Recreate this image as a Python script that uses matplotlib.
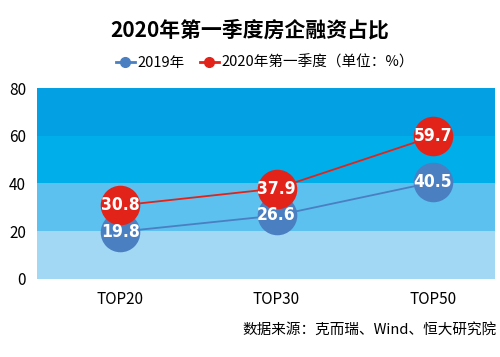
import matplotlib
matplotlib.use("Agg")
import matplotlib.pyplot as plt
from matplotlib.lines import Line2D

plt.rcParams['font.family'] = ['Noto Sans CJK SC', 'DejaVu Sans']

categories = ["TOP20", "TOP30", "TOP50"]
s2019 = [19.8, 26.6, 40.5]
s2020 = [30.8, 37.9, 59.7]
series_names = ["2019年", "2020年第一季度（单位：%）"]
yticks = [0, 20, 40, 60, 80]

band_colors = ["#a3d8f5", "#5cc1ef", "#00aeea", "#03a0e3"]
blue = "#4a7fc2"
red = "#e2231a"

fig = plt.figure(figsize=(5, 3.57), dpi=100)
ax = fig.add_axes([0.074, 0.2185, 0.916, 0.535])
x = list(range(len(categories)))
ax.set_xlim(-0.532, 2.397)
ax.set_ylim(0, 80)
for i in range(4):
    ax.axhspan(yticks[i], yticks[i + 1], color=band_colors[i], zorder=0, lw=0)

ax.plot(x, s2019, color=blue, lw=1.3, zorder=2)
ax.plot(x, s2020, color=red, lw=1.3, zorder=2)
ax.scatter(x, s2019, s=28.5**2, color=blue, zorder=3, lw=0)
ax.scatter(x, s2020, s=28.5**2, color=red, zorder=4, lw=0)
for xi, v in zip(x, s2019):
    ax.text(xi, v, f"{v:.1f}", color="white", ha="center", va="center",
            fontsize=12.5, fontweight="bold", fontstretch="condensed", family=["DejaVu Sans"], zorder=5)
for xi, v in zip(x, s2020):
    ax.text(xi, v, f"{v:.1f}", color="white", ha="center", va="center",
            fontsize=12.5, fontweight="bold", fontstretch="condensed", family=["DejaVu Sans"], zorder=6)

ax.set_xticks(x)
ax.set_xticklabels(categories, fontsize=11)
ax.set_yticks(yticks)
ax.set_yticklabels([str(t) for t in yticks], fontsize=11)
ax.tick_params(length=0, pad=8)
ax.tick_params(axis='x', pad=9)
for sp in ax.spines.values():
    sp.set_visible(False)

fig.text(0.5, 0.915, "2020年第一季度房企融资占比", ha="center", va="center",
         fontsize=15, fontweight="bold")
handles = [Line2D([0], [0], color=blue, lw=2, marker='o', markersize=7),
           Line2D([0], [0], color=red, lw=2, marker='o', markersize=7)]
fig.legend(handles, series_names, loc="center", bbox_to_anchor=(0.53, 0.825), ncol=2,
           frameon=False, fontsize=10.5, handlelength=1.3, handletextpad=0.2, columnspacing=1.0)
fig.text(0.993, 0.075, "数据来源：克而瑞、Wind、恒大研究院", ha="right", va="center", fontsize=10.5)

fig.savefig("out.png", dpi=100)
